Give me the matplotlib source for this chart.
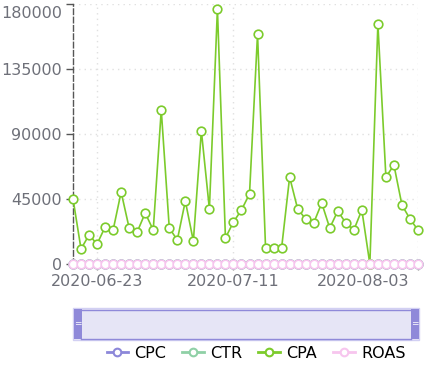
import matplotlib
matplotlib.use("Agg")
import matplotlib.pyplot as plt
from matplotlib.lines import Line2D
from matplotlib.patches import Rectangle
from matplotlib.transforms import ScaledTranslation
import pandas as pd

# ---- data ----
all_days = pd.date_range("2020-06-20", "2020-08-03").strftime("%Y-%m-%d").tolist()
dates = [d for d in all_days if d != "2020-07-04"]

cpa = [45200, 10400, 20100, 13800, 25600, 23500, 49800, 24900, 22200, 35300,
       23500, 106600, 24900, 16600, 43600, 15900, 92100, 38100, 176500, 18000,
       29100, 37400, 48500, 159200, 11100, 11100, 11100, 60200, 38100, 31200,
       28400, 42200, 24900, 36700, 28400, 23500, 37400, 0, 166200, 60200,
       68500, 40800, 31200, 23500]
cpc = [0] * len(dates)
ctr = [0] * len(dates)
roas = [0] * len(dates)

series_names = ["CPC", "CTR", "CPA", "ROAS"]
series_values = [cpc, ctr, cpa, roas]
series_colors = ["#8C87D9", "#8FD0A6", "#7CCB2C", "#F7C5EE"]

y_ticks = [0, 45000, 90000, 135000, 180000]
x_tick_labels = ["2020-06-23", "2020-07-11", "2020-08-03"]

# ---- figure ----
W, H = 438, 379
fig = plt.figure(figsize=(W / 100, H / 100), dpi=100)
L, R, T, B = 73, 418, 4, 264
ax = fig.add_axes([L / W, 1 - B / H, (R - L) / W, (B - T) / H])

x = list(range(len(dates)))
for name, vals, col in zip(series_names, series_values, series_colors):
    ax.plot(x, vals, color=col, lw=1.2, marker="o", ms=6.2,
            mfc="white", mec=col, mew=1.2, zorder=3, clip_on=False)

ax.set_xlim(0, len(dates) - 1)
ax.set_ylim(0, 180000)

ax.set_yticks(y_ticks)
ax.set_yticklabels([str(v) for v in y_ticks])
xt = [dates.index(d) for d in x_tick_labels]
ax.set_xticks(xt)
ax.set_xticklabels(x_tick_labels)

tc = "#6E7079"
ax.tick_params(axis="y", colors="#555555", labelcolor=tc, labelsize=11.5,
               length=5, width=1, pad=3)
ax.tick_params(axis="x", colors="#888888", labelcolor=tc, labelsize=11.5,
               length=4, width=1, pad=3)

# keep edge labels inside the chart, as in the reference
lab = ax.get_xticklabels()[-1]
lab.set_ha("right")
lab.set_transform(lab.get_transform() + ScaledTranslation(-9 / 100, 0, fig.dpi_scale_trans))
lab = ax.get_yticklabels()[-1]
lab.set_transform(lab.get_transform() + ScaledTranslation(0, -8.5 / 100, fig.dpi_scale_trans))

for s in ["top", "right", "bottom"]:
    ax.spines[s].set_visible(False)
ax.spines["left"].set_color("#555555")
ax.spines["left"].set_linestyle((0, (4, 2)))
ax.spines["left"].set_linewidth(1)

ax.grid(True, color="#E0E0E0", linestyle=(0, (1, 3)), linewidth=1)
ax.set_axisbelow(True)

# ---- data zoom slider ----
sx0, sx1, sy0, sy1 = 73, 419, 308, 340
fig.patches.append(Rectangle((sx0 / W, 1 - sy1 / H), (sx1 - sx0) / W, (sy1 - sy0) / H,
                             transform=fig.transFigure, facecolor="#E6E5F6",
                             edgecolor="#D2D0F3", lw=1))
hx = 8
for hx0 in (sx0 + 0.5, sx1 - hx - 0.5):
    fig.patches.append(Rectangle((hx0 / W, 1 - (sy1 - 1) / H), hx / W, (sy1 - sy0 - 2) / H,
                                 transform=fig.transFigure, facecolor="#8F89D9",
                                 edgecolor="none"))
    fig.text((hx0 + hx / 2) / W, 1 - ((sy0 + sy1) / 2) / H, "=", color="white",
             fontsize=6.5, ha="center", va="center")
for yy in (sy0 + 1.5, sy1 - 1.5):
    fig.add_artist(Line2D([(sx0 + hx) / W, (sx1 - hx) / W], [1 - yy / H, 1 - yy / H],
                          transform=fig.transFigure, color="#8F89D9", lw=1))

# ---- legend ----
handles = [Line2D([0], [0], color=c, lw=2, marker="o", ms=5.5, mfc="white",
                  mec=c, mew=1.5) for c in series_colors]
fig.legend(handles, series_names, loc="center", ncol=4,
           bbox_to_anchor=(256 / W, 1 - 353 / H), frameon=False,
           fontsize=11.5, handlelength=1.35, handletextpad=0.4,
           columnspacing=1.0, borderaxespad=0, borderpad=0)

fig.savefig("out.png", dpi=100)
